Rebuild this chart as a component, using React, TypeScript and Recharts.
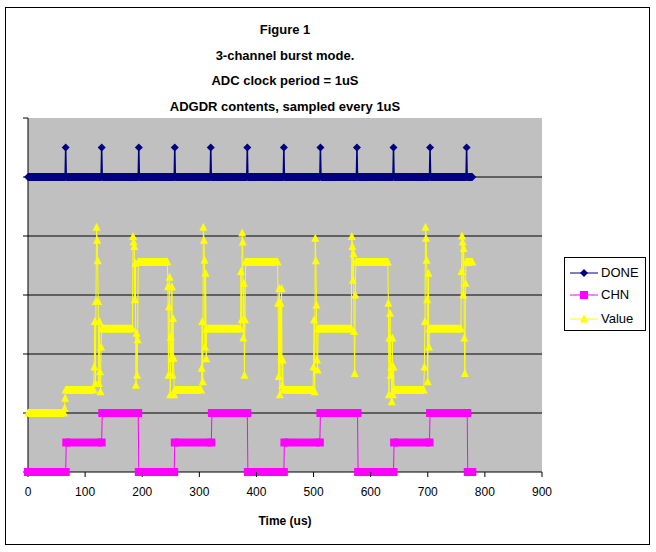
import { CartesianGrid, Line, LineChart, XAxis, YAxis } from 'recharts';

type Sample = [number, number];
type Pt = { t: number; v: number | null };

const titleLines = ['Figure 1', '3-channel burst mode.', 'ADC clock period = 1uS', 'ADGDR contents, sampled every 1uS'];
const xTitle = 'Time (us)';
const timeTicks = [0, 100, 200, 300, 400, 500, 600, 700, 800, 900];
const levelTicks = [0, 1, 2, 3, 4, 5, 6];
// level 0 / time 0 lines double as the axis lines, kept under the series
const gridLevels = [0, 1, 2, 3, 4, 5];
const gridTimes = [0];

// DONE, drawn offset to the top row (baseline 5, flag 5.5)
const doneSamples: Sample[] = [
  [0, 5], [65, 5], [66, 5.5], [67, 5], [128, 5], [129, 5.5], [130, 5], [193, 5], [194, 5.5], [195, 5],
  [256, 5], [257, 5.5], [258, 5], [319, 5], [320, 5.5], [321, 5], [383, 5], [384, 5.5], [385, 5],
  [447, 5], [448, 5.5], [449, 5], [511, 5], [512, 5.5], [513, 5], [575, 5], [576, 5.5], [577, 5],
  [639, 5], [640, 5.5], [641, 5], [703, 5], [704, 5.5], [705, 5], [767, 5], [768, 5.5], [769, 5], [778, 5],
];

// CHN 0 / 1 / 2 drawn as 0 / 0.5 / 1
const chnSamples: Sample[] = [
  [0, 0], [66, 0], [67, 0.5], [129, 0.5], [130, 1], [193, 1], [194, 0], [256, 0], [257, 0.5], [321, 0.5],
  [322, 1], [384, 1], [385, 0], [448, 0], [449, 0.5], [511, 0.5], [512, 1], [577, 1], [578, 0], [640, 0],
  [641, 0.5], [703, 0.5], [704, 1], [769, 1], [770, 0], [778, 0],
];

const valueSamples: Sample[] = [
  [0, 1.0], [63, 1.0], [64, 1.08], [65, 1.25], [66, 1.39], [115, 1.39],
  [116, 1.78], [117, 2.55], [118, 1.5], [119, 2.89], [120, 4.15], [121, 3.93], [122, 3.58], [123, 2.89],
  [124, 1.5], [125, 2.55], [126, 1.7], [127, 1.36], [128, 2.12], [129, 2.43], [183, 2.43],
  [184, 3.99], [185, 3.9], [186, 3.82], [187, 2.92], [188, 3.54], [189, 1.47], [190, 2.35], [191, 1.64],
  [192, 2.24], [193, 3.56], [244, 3.56],
  [245, 3.14], [246, 1.64], [247, 2.8], [248, 3.3], [249, 1.31], [250, 2.29], [251, 1.93], [252, 3.14],
  [253, 1.64], [254, 2.6], [255, 1.93], [256, 1.31], [257, 1.39], [303, 1.39],
  [304, 1.76], [305, 2.55], [306, 1.53], [307, 4.15], [308, 3.93], [309, 3.59], [310, 2.12], [311, 3.37],
  [312, 1.92], [313, 2.43], [372, 2.43],
  [373, 3.4], [374, 2.58], [375, 4.05], [376, 3.9], [377, 2.27], [378, 3.2], [379, 1.64], [380, 2.58],
  [381, 3.56], [437, 3.56],
  [438, 2.86], [439, 1.62], [440, 3.11], [441, 1.31], [442, 2.86], [443, 1.95], [444, 3.11], [445, 1.47],
  [446, 1.9], [447, 1.39], [499, 1.39],
  [500, 1.78], [501, 2.58], [502, 1.36], [503, 3.96], [504, 3.58], [505, 2.83], [506, 1.9], [507, 1.73],
  [508, 2.43], [566, 2.43],
  [567, 3.99], [568, 3.82], [569, 3.25], [570, 3.7], [571, 2.38], [572, 1.67], [573, 3.0], [574, 3.56], [630, 3.56],
  [631, 2.86], [632, 1.31], [633, 2.27], [634, 2.69], [635, 1.64], [636, 1.78], [637, 1.19], [638, 2.27],
  [639, 1.31], [640, 1.78], [641, 1.39], [693, 1.39],
  [694, 1.78], [695, 2.55], [696, 4.15], [697, 3.96], [698, 3.59], [699, 2.92], [700, 1.53], [701, 3.37],
  [702, 2.12], [703, 2.43], [758, 2.43],
  [759, 3.4], [760, 4.0], [761, 3.9], [762, 3.0], [763, 3.79], [764, 2.27], [765, 1.67], [766, 3.2],
  [767, 3.56], [778, 3.56],
];

const FONT = '"Liberation Sans", Arial, sans-serif';
const NAVY = '#000080';
const MAGENTA = '#FF00FF';
const YELLOW = '#FFFF00';

const toPoints = (s: Sample[]): Pt[] => s.map(([t, v]) => ({ t, v }));

// runs of equal samples -> thick band (the dense marker strip in the original)
function bandOf(s: Sample[]): Pt[] {
  const out: Pt[] = [];
  for (let i = 1; i < s.length; i++) {
    const [t0, v0] = s[i - 1];
    const [t1, v1] = s[i];
    if (v0 === v1 && t1 - t0 > 1) out.push({ t: t0, v: v0 }, { t: t1, v: v1 }, { t: t1, v: null });
  }
  return out;
}

type Shape = 'diamond' | 'square' | 'triangle';

function marker(shape: Shape, color: string, cx: number, cy: number, key?: number | string) {
  if (shape === 'diamond')
    return <path key={key} d={`M${cx},${cy - 4}L${cx + 4},${cy}L${cx},${cy + 4}L${cx - 4},${cy}Z`} fill={color} />;
  if (shape === 'square') return <rect key={key} x={cx - 4} y={cy - 4} width={8} height={8} fill={color} />;
  return <path key={key} d={`M${cx},${cy - 4.5}L${cx + 4},${cy + 3.5}L${cx - 4},${cy + 3.5}Z`} fill={color} />;
}

const dotOf = (shape: Shape, color: string) => (props: any) => {
  const { cx, cy, index } = props;
  if (cx == null || cy == null) return <g key={index} />;
  return marker(shape, color, cx, cy, index);
};

const legendItems: { name: string; color: string; shape: Shape }[] = [
  { name: 'DONE', color: NAVY, shape: 'diamond' },
  { name: 'CHN', color: MAGENTA, shape: 'square' },
  { name: 'Value', color: YELLOW, shape: 'triangle' },
];

export default function App() {
  const series = [
    { samples: doneSamples, color: NAVY, shape: 'diamond' as Shape, band: 8, width: 1.5 },
    { samples: chnSamples, color: MAGENTA, shape: 'square' as Shape, band: 8, width: 1 },
    { samples: valueSamples, color: YELLOW, shape: 'triangle' as Shape, band: 8, width: 1 },
  ];

  return (
    <div style={{ position: 'absolute', left: 0, top: 0, width: 656, height: 552, background: '#fff', fontFamily: FONT }}>
      <div
        style={{
          position: 'absolute', left: 5, top: 7, width: 645, height: 538,
          border: '1px solid #000', boxSizing: 'border-box',
        }}
      />
      <div
        style={{
          position: 'absolute', left: 0, top: 17, width: 570, textAlign: 'center',
          fontWeight: 'bold', fontSize: 13, lineHeight: '25.5px', color: '#000',
        }}
      >
        {titleLines.map((l) => (
          <div key={l}>{l}</div>
        ))}
      </div>

      <div style={{ position: 'absolute', left: 0, top: 0 }}>
        <LineChart width={656} height={552} margin={{ top: 118, right: 114, bottom: 50, left: 8 }}>
          <CartesianGrid
            fill="#C0C0C0"
            fillOpacity={1}
            stroke="#000"
            horizontalValues={gridLevels}
            verticalValues={gridTimes}
          />
          <XAxis
            type="number"
            dataKey="t"
            domain={[0, 900]}
            ticks={timeTicks}
            interval={0}
            height={30}
            tickSize={5}
            tickMargin={10}
            axisLine={false}
            tickLine={{ stroke: '#000' }}
            tick={{ fontSize: 12, fill: '#000', fontFamily: FONT }}
          />
          <YAxis
            type="number"
            domain={[0, 6]}
            ticks={levelTicks}
            interval={0}
            tickFormatter={() => ''}
            tickSize={5}
            width={20}
            axisLine={false}
            tickLine={{ stroke: '#000' }}
          />
          {series.flatMap((s, i) => [
            <Line
              key={`band${i}`}
              data={bandOf(s.samples)}
              dataKey="v"
              type="linear"
              stroke={s.color}
              strokeWidth={s.band}
              strokeLinecap="butt"
              dot={false}
              activeDot={false}
              connectNulls={false}
              isAnimationActive={false}
            />,
            <Line
              key={`trace${i}`}
              data={toPoints(s.samples)}
              dataKey="v"
              type="linear"
              stroke={s.color}
              strokeWidth={s.width}
              dot={dotOf(s.shape, s.color)}
              activeDot={false}
              isAnimationActive={false}
            />,
          ])}
        </LineChart>
      </div>

      <div
        style={{
          position: 'absolute', left: 0, top: 513, width: 570, textAlign: 'center',
          fontWeight: 'bold', fontSize: 12, lineHeight: '16px',
        }}
      >
        {xTitle}
      </div>

      <div
        style={{
          position: 'absolute', left: 564, top: 257, width: 82, height: 74,
          border: '1px solid #000', boxSizing: 'border-box', background: '#fff',
        }}
      >
        {legendItems.map((it, i) => (
          <div key={it.name} style={{ position: 'absolute', left: 5, top: [7, 29, 53][i], height: 16, width: 76 }}>
            <svg width={30} height={16} style={{ position: 'absolute', left: 0, top: 0 }}>
              <line x1={0} y1={8} x2={28} y2={8} stroke={it.color} strokeWidth={1} />
              {marker(it.shape, it.color, 14, 8)}
            </svg>
            <span style={{ position: 'absolute', left: 31, top: 0, fontSize: 13, lineHeight: '16px' }}>{it.name}</span>
          </div>
        ))}
      </div>
    </div>
  );
}
